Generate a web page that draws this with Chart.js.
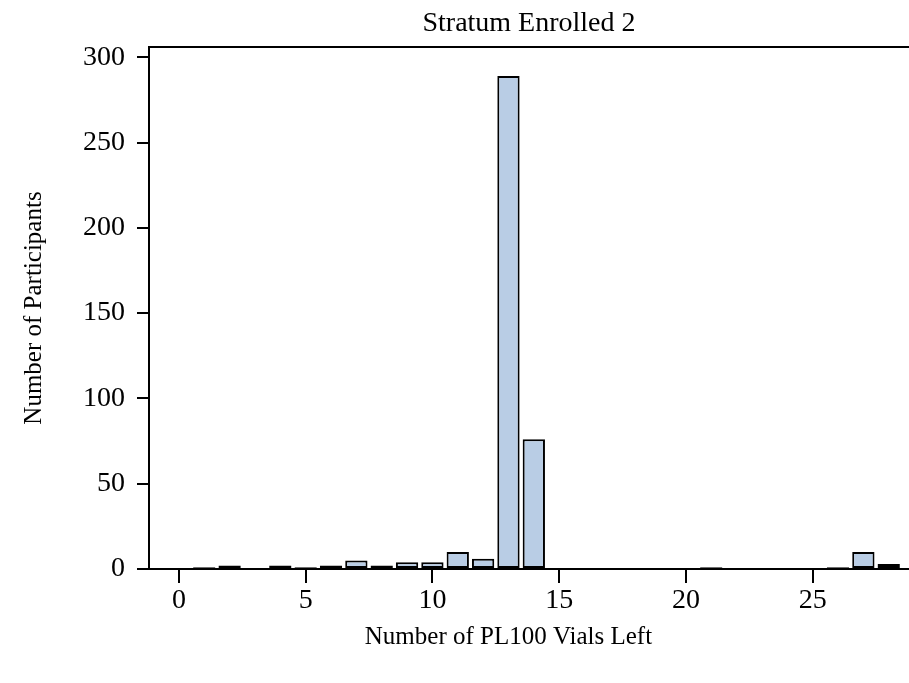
<!DOCTYPE html>
<html>
<head>
<meta charset="utf-8">
<script src="https://cdn.jsdelivr.net/npm/chart.js@4"></script>
<style>
  html, body { margin: 0; padding: 0; background: #fff; }
  #wrap { width: 909px; height: 683px; }
</style>
</head>
<body>
<div id="wrap"><canvas id="myChart" width="909" height="683"></canvas></div>
<script>
// vials left (x) and number of participants (y)
let vialsLeft    = [1, 2, 3, 4, 5, 6, 7, 8, 9, 10, 11, 12, 13, 14, 15, 16, 17, 18, 19, 20, 21, 22, 23, 24, 25, 26, 27, 28];
let participants = [1, 2, 0, 2, 1, 2, 5, 2, 4, 4, 10, 6, 289, 76, 0, 0, 0, 0, 0, 0, 1, 0, 0, 0, 0, 1, 10, 3];
let xTicks = [0, 5, 10, 15, 20, 25];
let yTicks = [0, 50, 100, 150, 200, 250, 300];

let chartTitle = 'Stratum Enrolled 2';
let xTitle = 'Number of PL100 Vials Left';
let yTitle = 'Number of Participants';

let font = 'Liberation Serif';

// build {x, y} points, leaving out empty bins
let points = [];
for (let i = 0; i < vialsLeft.length; i++) {
    if (participants[i] > 0) {
        points.push({x: vialsLeft[i], y: participants[i]});
    }
}

/**
 * Draws the x axis title under the tick labels
 */
const xTitlePlugin = {
    id: 'xTitle',
    afterDraw(chart, args, opts) {
        const ctx = chart.ctx;
        const sx = chart.scales.x;
        ctx.save();
        ctx.font = opts.size + 'px "' + font + '"';
        ctx.fillStyle = '#000';
        ctx.textAlign = 'center';
        ctx.textBaseline = 'middle';
        ctx.fillText(xTitle, sx.getPixelForValue(opts.at), opts.y);
        ctx.restore();
    }
};

let ctx = document.getElementById('myChart').getContext('2d');
window.myChart = new Chart(ctx, {
    type: 'bar',
    data: {
        datasets: [{
            data: points,
            backgroundColor: '#b9cde5',
            borderColor: '#000',
            borderWidth: 2,
            borderSkipped: false,
            categoryPercentage: 1,
            barPercentage: 0.88
        }]
    },
    plugins: [xTitlePlugin],
    options: {
        responsive: false,
        animation: false,
        layout: { padding: 0 },
        plugins: {
            legend: { display: false },
            tooltip: { enabled: false },
            xTitle: { size: 25, y: 637, at: 13 }
        },
        scales: {
            x: {
                type: 'linear',
                position: 'bottom',
                offset: false,
                min: -1.18,
                max: 28.8,
                afterFit: s => { s.height = 114; },
                afterBuildTicks: s => { s.ticks = xTicks.map(v => ({value: v})); },
                ticks: {
                    color: '#000',
                    font: { family: font, size: 28 },
                    padding: 1,
                    maxRotation: 0
                },
                grid: {
                    offset: false,
                    drawOnChartArea: false,
                    color: '#000',
                    lineWidth: 2,
                    tickLength: 14
                },
                border: { color: '#000', width: 2 }
            },
            top: {
                type: 'linear',
                position: 'top',
                offset: false,
                min: -1.18,
                max: 28.8,
                afterFit: s => { s.height = 47; },
                ticks: { display: false },
                grid: { display: false, offset: false },
                border: { color: '#000', width: 2 },
                title: {
                    display: true,
                    text: chartTitle,
                    color: '#000',
                    font: { family: font, size: 28 },
                    padding: { top: 7, bottom: 0 }
                }
            },
            y: {
                min: 0,
                max: 306,
                afterFit: s => { s.width = 149; },
                afterBuildTicks: s => { s.ticks = yTicks.map(v => ({value: v})); },
                ticks: {
                    color: '#000',
                    font: { family: font, size: 28 },
                    padding: 12
                },
                grid: {
                    drawOnChartArea: false,
                    color: '#000',
                    lineWidth: 2,
                    tickLength: 12
                },
                border: { color: '#000', width: 2 },
                title: {
                    display: true,
                    text: yTitle,
                    color: '#000',
                    font: { family: font, size: 25 },
                    padding: { top: 19, bottom: 0 }
                }
            }
        }
    }
});
</script>
</body>
</html>
